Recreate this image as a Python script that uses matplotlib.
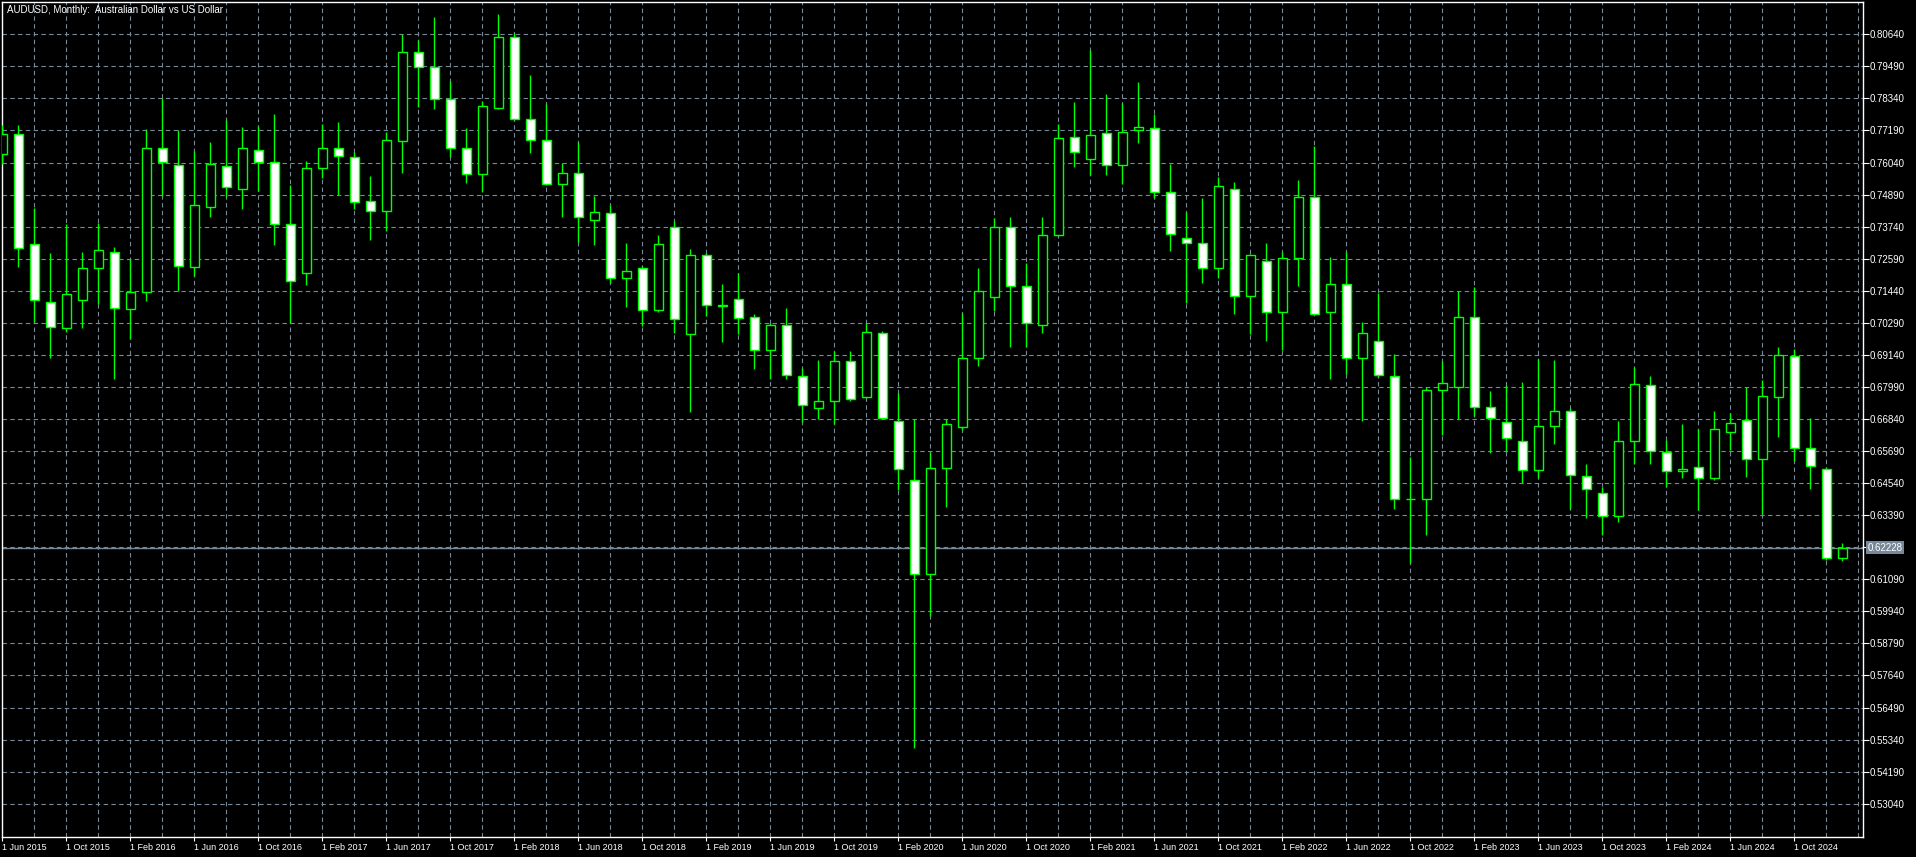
import matplotlib
matplotlib.use("Agg")
import matplotlib.pyplot as plt
import numpy as np
import pandas as pd

plt.rcParams['font.family'] = ['Liberation Sans', 'DejaVu Sans']

title = "AUDUSD, Monthly:  Australian Dollar vs US Dollar"
first_month = "2015-06-01"
last_price = 0.62228

# monthly OHLC, Jun 2015 .. Jan 2025
opens = [0.7634, 0.7705, 0.7313, 0.7105, 0.7012, 0.7112, 0.7225, 0.7282, 0.7078, 0.7139,
         0.7655, 0.7594, 0.7229, 0.7446, 0.7591, 0.7510, 0.7650, 0.7605, 0.7383, 0.7207,
         0.7583, 0.7655, 0.7623, 0.7465, 0.7429, 0.7680, 0.8000, 0.7946, 0.7831, 0.7655,
         0.7562, 0.7799, 0.8053, 0.7759, 0.7684, 0.7526, 0.7565, 0.7397, 0.7422, 0.7189,
         0.7225, 0.7074, 0.7374, 0.6989, 0.7273, 0.7093, 0.7113, 0.7049, 0.6932, 0.7020,
         0.6839, 0.6723, 0.6748, 0.6891, 0.6764, 0.6992, 0.6678, 0.6464, 0.6129, 0.6507,
         0.6654, 0.6902, 0.7121, 0.7374, 0.7160, 0.7021, 0.7343, 0.7697, 0.7618, 0.7709,
         0.7594, 0.7721, 0.7729, 0.7497, 0.7332, 0.7314, 0.7225, 0.7508, 0.7124, 0.7251,
         0.7067, 0.7261, 0.7479, 0.7067, 0.7167, 0.6902, 0.6965, 0.6839, 0.6396, 0.6396,
         0.6788, 0.6799, 0.7051, 0.6726, 0.6674, 0.6606, 0.6500, 0.6658, 0.6714, 0.6481,
         0.6420, 0.6336, 0.6604, 0.6805, 0.6567, 0.6498, 0.6513, 0.6471, 0.6637, 0.6679,
         0.6541, 0.6763, 0.6909, 0.6579, 0.6506, 0.6184]
highs = [0.7740, 0.7739, 0.7442, 0.7278, 0.7383, 0.7282, 0.7386, 0.7301, 0.7257, 0.7723,
         0.7834, 0.7721, 0.7645, 0.7678, 0.7757, 0.7731, 0.7735, 0.7778, 0.7522, 0.7609,
         0.7742, 0.7748, 0.7641, 0.7555, 0.7714, 0.8065, 0.8044, 0.8126, 0.7897, 0.7728,
         0.7825, 0.8137, 0.8068, 0.7917, 0.7813, 0.7603, 0.7679, 0.7483, 0.7451, 0.7314,
         0.7234, 0.7343, 0.7394, 0.7294, 0.7280, 0.7168, 0.7207, 0.7061, 0.7030, 0.7081,
         0.6866, 0.6896, 0.6929, 0.6929, 0.7030, 0.7000, 0.6776, 0.6683, 0.6567, 0.6683,
         0.7063, 0.7226, 0.7404, 0.7410, 0.7243, 0.7408, 0.7742, 0.7820, 0.8007, 0.7850,
         0.7817, 0.7893, 0.7777, 0.7599, 0.7426, 0.7476, 0.7553, 0.7535, 0.7275, 0.7314,
         0.7282, 0.7541, 0.7663, 0.7264, 0.7282, 0.7031, 0.7135, 0.6916, 0.6547, 0.6800,
         0.6892, 0.7142, 0.7158, 0.6784, 0.6806, 0.6816, 0.6899, 0.6895, 0.6724, 0.6523,
         0.6441, 0.6677, 0.6872, 0.6838, 0.6608, 0.6666, 0.6647, 0.6712, 0.6705, 0.6800,
         0.6824, 0.6941, 0.6934, 0.6687, 0.6510, 0.6238]
lows = [0.7600, 0.7230, 0.7033, 0.6904, 0.6995, 0.7012, 0.7096, 0.6827, 0.6970, 0.7106,
        0.7485, 0.7143, 0.7198, 0.7408, 0.7481, 0.7438, 0.7503, 0.7309, 0.7030, 0.7164,
        0.7547, 0.7489, 0.7438, 0.7327, 0.7360, 0.7568, 0.7804, 0.7797, 0.7625, 0.7532,
        0.7499, 0.7795, 0.7755, 0.7639, 0.7522, 0.7409, 0.7320, 0.7308, 0.7173, 0.7085,
        0.7018, 0.7068, 0.6992, 0.6710, 0.7054, 0.6960, 0.6988, 0.6862, 0.6828, 0.6828,
        0.6674, 0.6684, 0.6666, 0.6750, 0.6760, 0.6685, 0.6429, 0.5505, 0.5977, 0.6370,
        0.6645, 0.6875, 0.7073, 0.6943, 0.6941, 0.6992, 0.7340, 0.7589, 0.7559, 0.7559,
        0.7526, 0.7673, 0.7476, 0.7288, 0.7101, 0.7171, 0.7189, 0.7062, 0.6988, 0.6965,
        0.6930, 0.7161, 0.7057, 0.6827, 0.6846, 0.6678, 0.6834, 0.6360, 0.6169, 0.6268,
        0.6627, 0.6684, 0.6696, 0.6563, 0.6569, 0.6455, 0.6474, 0.6595, 0.6362, 0.6330,
        0.6268, 0.6316, 0.6523, 0.6524, 0.6441, 0.6474, 0.6359, 0.6464, 0.6573, 0.6477,
        0.6342, 0.6621, 0.6534, 0.6432, 0.6178, 0.6176]
closes = [0.7705, 0.7296, 0.7110, 0.7013, 0.7131, 0.7225, 0.7289, 0.7081, 0.7139, 0.7655,
          0.7606, 0.7233, 0.7451, 0.7598, 0.7515, 0.7655, 0.7606, 0.7383, 0.7180, 0.7583,
          0.7655, 0.7627, 0.7461, 0.7429, 0.7684, 0.8000, 0.7946, 0.7831, 0.7655, 0.7562,
          0.7806, 0.8053, 0.7759, 0.7684, 0.7526, 0.7565, 0.7408, 0.7426, 0.7190, 0.7214,
          0.7074, 0.7311, 0.7042, 0.7271, 0.7092, 0.7091, 0.7045, 0.6932, 0.7021, 0.6842,
          0.6734, 0.6748, 0.6891, 0.6755, 0.6997, 0.6687, 0.6504, 0.6129, 0.6507, 0.6665,
          0.6902, 0.7142, 0.7374, 0.7160, 0.7027, 0.7343, 0.7691, 0.7641, 0.7702, 0.7594,
          0.7712, 0.7730, 0.7497, 0.7347, 0.7314, 0.7225, 0.7519, 0.7124, 0.7271, 0.7067,
          0.7261, 0.7479, 0.7061, 0.7167, 0.6902, 0.6992, 0.6841, 0.6396, 0.6396, 0.6787,
          0.6814, 0.7051, 0.6726, 0.6687, 0.6615, 0.6500, 0.6658, 0.6714, 0.6482, 0.6433,
          0.6336, 0.6604, 0.6809, 0.6568, 0.6498, 0.6506, 0.6471, 0.6649, 0.6669, 0.6541,
          0.6765, 0.6913, 0.6579, 0.6514, 0.6184, 0.62228]

y_ticks = np.round(np.arange(0.53040, 0.80641, 0.0115), 5)

BG = "black"
GREEN = "#00ff00"
GRID = "#778899"

dates = pd.date_range(first_month, periods=len(opens), freq="MS")
x = np.arange(len(opens))
o = np.array(opens)
h = np.array(highs)
l = np.array(lows)
c = np.array(closes)
up = c > o

W, H = 1916, 857
fig = plt.figure(figsize=(W / 100, H / 100), dpi=100, facecolor=BG)
ax = fig.add_axes([2 / W, 1 - 837 / H, 1861 / W, 834.7 / H])
ax.set_facecolor(BG)

# grid
grid_ls = (0, (4, 3))
for yv in y_ticks:
    ax.axhline(yv, color=GRID, lw=0.8, ls=grid_ls, zorder=1)
for xv in range(2, 117, 2):
    ax.axvline(xv, color=GRID, lw=0.8, ls=grid_ls, zorder=1)

# last price line
ax.axhline(last_price, color=GRID, lw=1, zorder=2)

# candles
ax.vlines(x, l, h, color=GREEN, lw=1, zorder=3)
ax.bar(x, np.abs(c - o), bottom=np.minimum(o, c), width=0.58,
       color=np.where(up, "black", "white"), edgecolor=GREEN, linewidth=1, zorder=4)

ax.set_xlim(-0.02, 116.29)
ax.set_ylim(0.51845, 0.81788)

for s in ax.spines.values():
    s.set_color("white")
    s.set_linewidth(1)

ax.yaxis.tick_right()
ax.set_yticks(y_ticks)
ax.set_yticklabels([f"{v:.5f}" for v in y_ticks])
ax.tick_params(axis="y", colors="white", length=4, width=0.8, pad=1, labelsize=7)

ax.set_xticks(x[::4])
ax.set_xticklabels([f"1 {d:%b %Y}" for d in dates[::4]])
ax.tick_params(axis="x", colors="white", length=3, width=0.8, pad=1, labelsize=6.5)
for lbl in ax.get_xticklabels():
    lbl.set_horizontalalignment("left")

ax.annotate(f"{last_price:.5f}", xy=(1, last_price), xycoords=("axes fraction", "data"),
            xytext=(3.5, 0), textcoords="offset points", va="center", ha="left",
            fontsize=7, color="white",
            bbox=dict(boxstyle="square,pad=0.15", fc=GRID, ec="none"))

fig.text(7 / W, 1 - 10 / H, title, color="white", fontsize=7, va="center", ha="left")

fig.savefig("out.png", dpi=100, facecolor=BG)
